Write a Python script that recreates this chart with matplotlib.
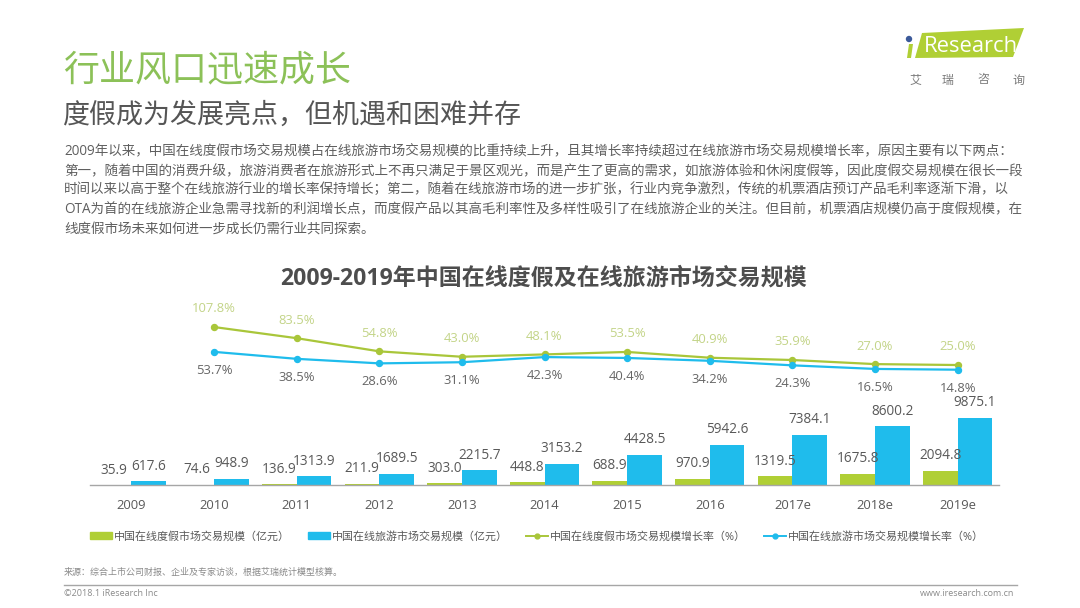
import matplotlib
matplotlib.use("Agg")
import matplotlib.pyplot as plt
from matplotlib.patches import Polygon, Circle
from matplotlib.lines import Line2D
from matplotlib.patches import Patch
import numpy as np

plt.rcParams['font.family'] = ['Open Sans', 'Noto Sans CJK SC', 'DejaVu Sans']

W, H = 1080, 608
years = ['2009', '2010', '2011', '2012', '2013', '2014', '2015', '2016', '2017e', '2018e', '2019e']
holiday = [35.9, 74.6, 136.9, 211.9, 303.0, 448.8, 688.9, 970.9, 1319.5, 1675.8, 2094.8]
travel = [617.6, 948.9, 1313.9, 1689.5, 2215.7, 3153.2, 4428.5, 5942.6, 7384.1, 8600.2, 9875.1]
holiday_rate = [107.8, 83.5, 54.8, 43.0, 48.1, 53.5, 40.9, 35.9, 27.0, 25.0]
travel_rate = [53.7, 38.5, 28.6, 31.1, 42.3, 40.4, 34.2, 24.3, 16.5, 14.8]

GREEN = '#b0cf35'
LINE_GREEN = '#a9c63a'
BLUE = '#1fbcec'
GRAY = '#595959'
TITLE_GREEN = '#8cc158'

# ASCII punctuation in the strings below becomes full-width, as in the reference
FW = str.maketrans({',': '\uff0c', ';': '\uff1b', ':': '\uff1a', '(': '\uff08', ')': '\uff09'})

body = [
    '2009年以来,中国在线度假市场交易规模占在线旅游市场交易规模的比重持续上升,且其增长率持续超过在线旅游市场交易规模增长率,原因主要有以下两点:',
    '第一,随着中国的消费升级,旅游消费者在旅游形式上不再只满足于景区观光,而是产生了更高的需求,如旅游体验和休闲度假等,因此度假交易规模在很长一段',
    '时间以来以高于整个在线旅游行业的增长率保持增长;第二,随着在线旅游市场的进一步扩张,行业内竞争激烈,传统的机票酒店预订产品毛利率逐渐下滑,以',
    'OTA为首的在线旅游企业急需寻找新的利润增长点,而度假产品以其高毛利率性及多样性吸引了在线旅游企业的关注。但目前,机票酒店规模仍高于度假规模,在',
    '线度假市场未来如何进一步成长仍需行业共同探索。',
]
body_y = [151, 171, 190, 210, 230]

fig = plt.figure(figsize=(W / 100, H / 100), dpi=100, facecolor='white')


def T(x, y, s, px, color=GRAY, ha='left', va='center', **kw):
    return fig.text(x / W, 1 - y / H, s.translate(FW), fontsize=px * 0.72, color=color, ha=ha, va=va, **kw)


T(63, 71, '行业风口迅速成长', 36, TITLE_GREEN)
T(63, 116, '度假成为发展亮点,但机遇和困难并存', 27, '#555555')
for yy, line in zip(body_y, body):
    T(64, yy, line, 13.55, '#5f5f5f')
T(544, 279, '2009-2019年中国在线度假及在线旅游市场交易规模', 23, '#4d4d4d', ha='center', fontweight='bold')

# chart axes: x 90..999 px, baseline 485.3 px, top 300 px
left, right, base, top = 90, 999, 485.3, 300
ax = fig.add_axes([left / W, 1 - base / H, (right - left) / W, (base - top) / H])
ax.patch.set_alpha(0)
x = np.arange(len(years))
bw = 0.42
ax.bar(x - bw / 2, holiday, bw, color=GREEN, zorder=2)
ax.bar(x + bw / 2, travel, bw, color=BLUE, zorder=2)
ax.set_xlim(-0.5, 10.5)
ax.set_ylim(0, (base - top) * 146.08)
ax.set_yticks([])
ax.set_xticks(x)
ax.set_xticklabels(years, fontsize=9.4, color=GRAY)
ax.tick_params(axis='x', length=0, pad=10)
for s in ['top', 'left', 'right']:
    ax.spines[s].set_visible(False)
ax.spines['bottom'].set_color('#a6a6a6')
ax.spines['bottom'].set_linewidth(1)

for i in x:
    ax.annotate(f'{holiday[i]:.1f}', (i - bw / 2, holiday[i]), xytext=(0, 10.8), textcoords='offset points',
                ha='center', va='center', fontsize=9.8, color=GRAY, zorder=5)
    ax.annotate(f'{travel[i]:.1f}', (i + bw / 2, travel[i]), xytext=(0, 10.8), textcoords='offset points',
                ha='center', va='center', fontsize=9.8, color=GRAY, zorder=5)

# growth-rate axes share the same box
ax2 = fig.add_axes(ax.get_position())
ax2.patch.set_alpha(0)
ax2.axis('off')
ax2.set_xlim(-0.5, 10.5)
ax2.set_ylim((376.5 - base) / 0.459, (376.5 - top) / 0.459)
xr = x[1:]
ax2.plot(xr, holiday_rate, color=LINE_GREEN, lw=1.6, marker='o', ms=4.3, zorder=3)
ax2.plot(xr, travel_rate, color=BLUE, lw=1.6, marker='o', ms=4.3, zorder=3)
for i, v in zip(xr, holiday_rate):
    ax2.annotate(f'{v:.1f}%', (i, v), xytext=(0, 13), textcoords='offset points', ha='center', va='center',
                 fontsize=9.4, color='#c3d488')
for i, v in zip(xr, travel_rate):
    ax2.annotate(f'{v:.1f}%', (i, v), xytext=(0, -13.3), textcoords='offset points', ha='center', va='center',
                 fontsize=9.4, color='#666666')

handles = [
    Patch(color=GREEN), Patch(color=BLUE),
    Line2D([], [], color=LINE_GREEN, lw=1.4, marker='o', ms=3.5),
    Line2D([], [], color=BLUE, lw=1.4, marker='o', ms=3.5),
]
labels = ['中国在线度假市场交易规模(亿元)', '中国在线旅游市场交易规模(亿元)',
          '中国在线度假市场交易规模增长率(%)', '中国在线旅游市场交易规模增长率(%)']
fig.legend(handles, [s.translate(FW) for s in labels], ncol=4, loc='center left',
           bbox_to_anchor=(90 / W, 1 - 537 / H), frameon=False,
           fontsize=7.9, labelcolor=GRAY, handlelength=2.0, handletextpad=0.2, columnspacing=1.62, borderpad=0,
           borderaxespad=0, handleheight=0.5)

T(64, 572, '来源:综合上市公司财报、企业及专家访谈,根据艾瑞统计模型核算。', 9, '#8a8a8a')
fig.add_artist(Line2D([64 / W, 1017 / W], [1 - 585 / H] * 2, color='#a6a6a6', lw=1))
T(64, 594, '©2018.1 iResearch Inc', 9, '#8a8a8a')
T(1014, 594, 'www.iresearch.com.cn', 9, '#8a8a8a', ha='right')

# logo
def P(pts):
    return [(a / W, 1 - b / H) for a, b in pts]
fig.add_artist(Polygon(P([(922, 33), (1024, 28), (1013, 57), (915, 58)]), closed=True, fc=GREEN, ec='none',
                       transform=fig.transFigure))
fig.add_artist(Polygon(P([(909, 44), (913, 44), (911, 58), (907, 58)]), closed=True, fc=GREEN, ec='none',
                       transform=fig.transFigure))
fig.add_artist(Circle((0, 0), 3.2, fc='#3c5a9a', ec='none',
                      transform=matplotlib.transforms.Affine2D().translate(909, H - 39)))
T(924, 46, 'Research', 22, 'white')
for xx, ch in zip([915, 948, 983, 1018], '艾瑞咨询'):
    T(xx, 80, ch, 12, '#7a7a7a', ha='center')

fig.savefig('out.png', dpi=100)
